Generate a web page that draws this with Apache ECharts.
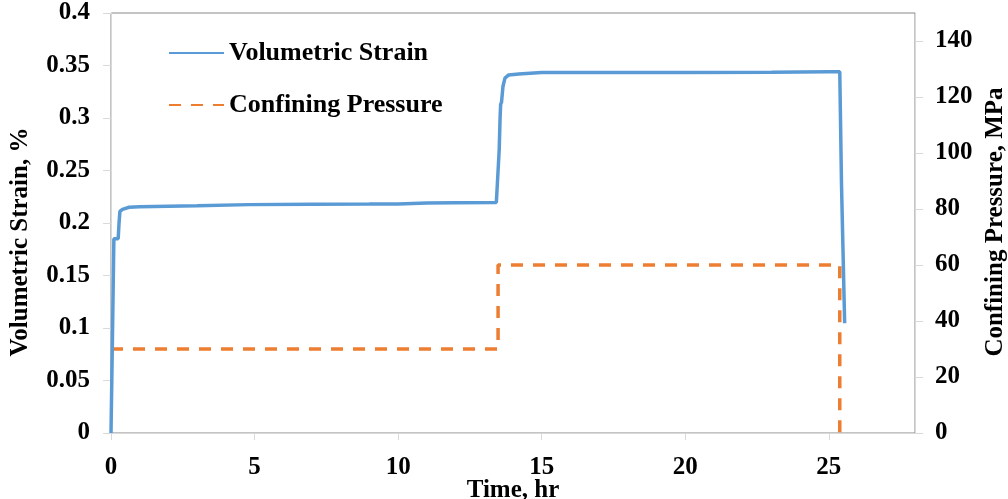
<!DOCTYPE html>
<html>
<head>
<meta charset="utf-8">
<script src="https://cdn.jsdelivr.net/npm/echarts@6/dist/echarts.min.js"></script>
<style>html,body{margin:0;padding:0;background:#fff}#c{width:1008px;height:499px}</style>
</head>
<body>
<div id="c"></div>
<script>
// Volumetric strain (%) vs time (hr)
const strainTime = [0, 0.05, 0.1, 0.15, 0.25, 0.28, 0.31, 0.4, 0.63, 1, 2, 3, 4.8, 7, 9, 10, 11, 12, 13.42, 13.47, 13.52, 13.55, 13.57, 13.6, 13.65, 13.72, 13.85, 14.2, 15, 17, 20, 23, 25, 25.38, 25.44, 25.55];
const strainVal  = [0, 0.09, 0.185, 0.185, 0.185, 0.2, 0.211, 0.213, 0.215, 0.2155, 0.216, 0.2165, 0.2175, 0.2178, 0.218, 0.2182, 0.219, 0.2193, 0.2195, 0.2195, 0.27, 0.3, 0.313, 0.315, 0.33, 0.338, 0.341, 0.342, 0.3433, 0.3433, 0.3433, 0.3435, 0.344, 0.344, 0.2375, 0.1045];
// Confining pressure (MPa) vs time (hr)
const pressTime = [0, 13.48, 13.48, 25.38, 25.38];
const pressVal  = [30, 30, 60, 60, 0];
// Tick values
const xTicks = [0, 5, 10, 15, 20, 25];
const rightTicks = [0, 20, 40, 60, 80, 100, 120, 140];

const font = '"Liberation Serif", "Times New Roman", serif';
const chart = echarts.init(document.getElementById('c'), null, {renderer: 'canvas'});
chart.setOption({
  animation: false,
  backgroundColor: '#fff',
  grid: {left: 111, right: 93, top: 13, bottom: 66, containLabel: false, outerBoundsMode: 'none',
         show: true, borderColor: '#888', borderWidth: 1, backgroundColor: 'transparent'},
  legend: {
    orient: 'vertical', left: 168, top: 39, padding: 0, itemWidth: 55, itemHeight: 14, itemGap: 24,
    itemStyle: {opacity: 0},
    textStyle: {fontFamily: font, fontWeight: 'bold', fontSize: 26, color: '#000', lineHeight: 28},
    data: ['Volumetric Strain', 'Confining Pressure']
  },
  xAxis: {
    type: 'value', min: 0, max: 28,
    name: 'Time, hr', nameLocation: 'middle', nameGap: 45, nameMoveOverlap: false,
    nameTextStyle: {fontFamily: font, fontWeight: 'bold', fontSize: 25, color: '#000'},
    axisLine: {show: true, lineStyle: {color: '#d9d9d9', width: 1}},
    axisTick: {show: true, inside: false, length: 7, lineStyle: {color: '#d9d9d9'}, customValues: xTicks},
    axisLabel: {fontFamily: font, fontWeight: 'bold', fontSize: 25, color: '#000', margin: 22, customValues: xTicks},
    splitLine: {show: false}
  },
  yAxis: [{
    type: 'value', min: 0, max: 0.4, interval: 0.05, position: 'left',
    axisLine: {show: true, lineStyle: {color: '#d9d9d9', width: 1}},
    axisTick: {show: true, length: 8, lineStyle: {color: '#d9d9d9'}},
    axisLabel: {fontFamily: font, fontWeight: 'bold', fontSize: 25, color: '#000', margin: 21},
    splitLine: {show: false}
  }, {
    type: 'value', min: 0, max: 150, interval: 20, position: 'right',
    axisLine: {show: true, lineStyle: {color: '#d9d9d9', width: 1}},
    axisTick: {show: true, length: 8, lineStyle: {color: '#d9d9d9'}, customValues: rightTicks},
    axisLabel: {fontFamily: font, fontWeight: 'bold', fontSize: 25, color: '#000', margin: 20, customValues: rightTicks},
    splitLine: {show: false}
  }],
  graphic: [
    {type: 'text', x: 21, y: 242, rotation: Math.PI / 2,
     style: {text: 'Volumetric Strain, %', font: 'bold 25px ' + font, fill: '#000', align: 'center', verticalAlign: 'middle'}},
    {type: 'text', x: 996, y: 222, rotation: Math.PI / 2,
     style: {text: 'Confining Pressure, MPa', font: 'bold 25px ' + font, fill: '#000', align: 'center', verticalAlign: 'middle'}}
  ],
  series: [{
    name: 'Volumetric Strain', type: 'line', yAxisIndex: 0, showSymbol: false, symbol: 'none',
    lineStyle: {color: '#5b9bd5', width: 3.5}, itemStyle: {color: '#5b9bd5'},
    data: strainTime.map((t, i) => [t, strainVal[i]]), z: 3
  }, {
    name: 'Confining Pressure', type: 'line', yAxisIndex: 1, showSymbol: false, symbol: 'none',
    lineStyle: {color: '#ed7d31', width: 3.5, type: [12, 10]}, itemStyle: {color: '#ed7d31'},
    data: pressTime.map((t, i) => [t, pressVal[i]]), z: 2
  }]
});
</script>
</body>
</html>
